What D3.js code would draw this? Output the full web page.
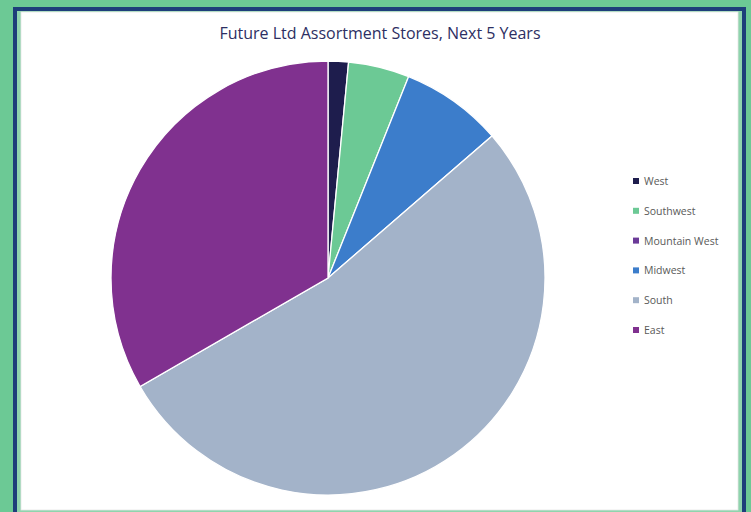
<!DOCTYPE html>
<html>
<head>
<meta charset="utf-8">
<script src="https://cdn.jsdelivr.net/npm/d3@7"></script>
<style>
  html, body { margin: 0; padding: 0; background: #6cc995; }
  #chart { width: 751px; height: 512px; }
</style>
</head>
<body>
<div id="chart"></div>
<script>
// chart data
let regions = ["West", "Southwest", "Mountain West", "Midwest", "South", "East"]
let stores = [1, 3, 0, 5, 35, 22]
let colors = ["#1e1d4d", "#6cc995", "#6b3a98", "#3c7dcb", "#a3b3c9", "#80318f"]
let title = "Future Ltd Assortment Stores, Next 5 Years"

let width = 751
let height = 512

let cx = 328
let cy = 278
let radius = 217

let svg = d3.select("#chart").append("svg")
  .attr("width", width)
  .attr("height", height)
  .attr("viewBox", [0, 0, width, height])

// frame: green background, navy line, light green gap, white panel
svg.append("rect")
  .attr("x", 0).attr("y", 0).attr("width", width).attr("height", height)
  .attr("fill", "#6cc995")
svg.append("rect")
  .attr("x", 15).attr("y", 9).attr("width", 729).attr("height", 520)
  .attr("fill", "none").attr("stroke", "#1d3e7a").attr("stroke-width", 4)
svg.append("rect")
  .attr("x", 17).attr("y", 11).attr("width", 725).attr("height", 520)
  .attr("fill", "#8fd4ad")
svg.append("rect")
  .attr("x", 21).attr("y", 12).attr("width", 717).attr("height", 498)
  .attr("fill", "#ffffff").attr("stroke", "#e6e6e6").attr("stroke-width", 0.8)

// title
svg.append("text")
  .attr("x", 380).attr("y", 39)
  .attr("text-anchor", "middle")
  .attr("font-family", "Open Sans").attr("font-size", 16)
  .attr("fill", "#2d2f63")
  .text(title)

// pie
let pie = d3.pie().sort(null).value(d => d)
let arc = d3.arc().innerRadius(0).outerRadius(radius)

let g = svg.append("g").attr("transform", `translate(${cx},${cy})`)

g.selectAll("path")
  .data(pie(stores))
  .join("path")
  .attr("d", arc)
  .attr("fill", (d, i) => colors[i])
  .attr("stroke", "#ffffff")
  .attr("stroke-width", (d) => d.data > 0 ? 1.3 : 0)

// legend
let legendY = d3.scalePoint().domain(regions).range([181, 330])

let lg = svg.append("g")
lg.selectAll("rect")
  .data(regions)
  .join("rect")
  .attr("x", 633).attr("y", d => legendY(d) - 3)
  .attr("width", 6).attr("height", 6)
  .attr("fill", (d, i) => colors[i])

lg.selectAll("text")
  .data(regions)
  .join("text")
  .attr("x", 644).attr("y", d => legendY(d) + 4)
  .attr("font-family", "Open Sans").attr("font-size", 10.5)
  .attr("fill", "#595959")
  .text(d => d)
</script>
</body>
</html>
